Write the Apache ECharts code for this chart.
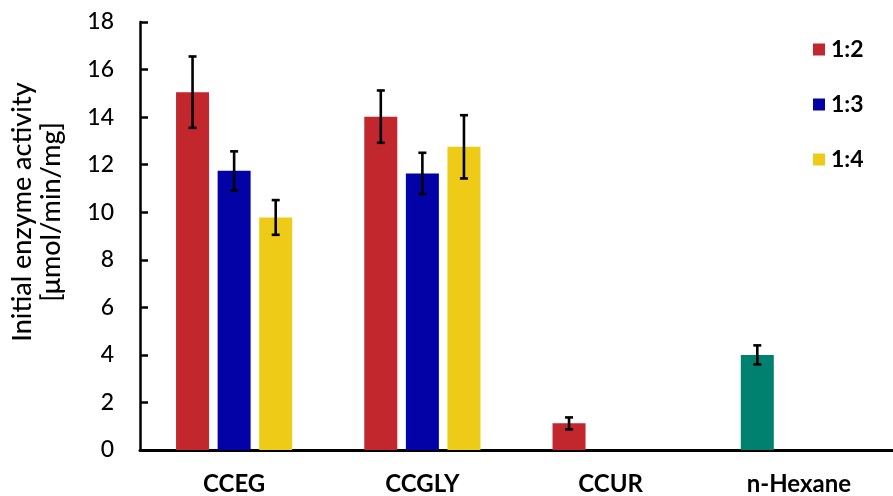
<!DOCTYPE html>
<html>
<head>
<meta charset="utf-8">
<script src="https://cdn.jsdelivr.net/npm/echarts@6/dist/echarts.min.js"></script>
<style>
  html, body { margin: 0; padding: 0; background: #fff; }
  #chart { width: 893px; height: 496px; }
</style>
</head>
<body>
<div id="chart"></div>
<script>
// Solvent systems on the category axis
const categories = ['CCEG', 'CCGLY', 'CCUR', 'n-Hexane'];
const seriesNames = ['1:2', '1:3', '1:4'];

// Initial enzyme activity (µmol/min/mg) per molar ratio
const ratio12 = [15.05, 14.02, 1.12, 4.0];
const ratio13 = [11.74, 11.63, null, null];
const ratio14 = [9.78, 12.75, null, null];

// Standard deviations for the error bars
const err12 = [1.5, 1.1, 0.25, 0.4];
const err13 = [0.82, 0.87, null, null];
const err14 = [0.73, 1.33, null, null];

// Y axis ticks
const yMin = 0, yMax = 18, yStep = 2;

const colors = ['#C1272D', '#0202A6', '#EDCB17'];
const hexaneColor = '#00806F';

const BAR_W = 33;
const BAR_GAP = 0.26; // fraction of bar width

const values = [ratio12, ratio13, ratio14];
const errors = [err12, err13, err14];

const chart = echarts.init(document.getElementById('chart'));

const barSeries = values.map((vals, si) => ({
  name: seriesNames[si],
  type: 'bar',
  barWidth: BAR_W,
  barGap: (BAR_GAP * 100) + '%',
  itemStyle: { color: colors[si] },
  data: vals.map((v, ci) => {
    if (si === 0 && categories[ci] === 'n-Hexane') {
      return { value: v, itemStyle: { color: hexaneColor } };
    }
    return v;
  }),
  z: 2
}));

// Error bars, offset the same way the bar series are laid out
const errSeries = values.map((vals, si) => ({
  name: 'err' + si,
  type: 'custom',
  z: 5,
  silent: true,
  data: vals.map((v, ci) => [ci, v, errors[si][ci]]).filter(d => d[1] != null),
  renderItem: function (params, api) {
    const ci = api.value(0), v = api.value(1), e = api.value(2);
    const step = BAR_W * (1 + BAR_GAP);
    const offset = (si - (values.length - 1) / 2) * step;
    const hi = api.coord([ci, v + e]);
    const lo = api.coord([ci, v - e]);
    const x = hi[0] + offset;
    const cap = 4;
    const style = { stroke: '#000', lineWidth: 2.6 };
    return {
      type: 'group',
      children: [
        { type: 'line', shape: { x1: x, y1: hi[1], x2: x, y2: lo[1] }, style },
        { type: 'line', shape: { x1: x - cap, y1: hi[1], x2: x + cap, y2: hi[1] }, style },
        { type: 'line', shape: { x1: x - cap, y1: lo[1], x2: x + cap, y2: lo[1] }, style }
      ]
    };
  }
}));

chart.setOption({
  animation: false,
  backgroundColor: '#fff',
  textStyle: { fontFamily: 'Lato' },
  grid: { left: 140, top: 22, bottom: 44, width: 756, containLabel: false },
  legend: {
    data: seriesNames,
    orient: 'vertical',
    left: 808,
    top: 33,
    itemWidth: 12,
    itemHeight: 12,
    itemGap: 32,
    icon: 'rect',
    textStyle: { fontFamily: 'Lato', fontSize: 23, fontWeight: 'bold', color: '#000', padding: [0, 0, 0, 1] }
  },
  xAxis: {
    type: 'category',
    data: categories,
    axisLine: { lineStyle: { color: '#000', width: 3 } },
    axisTick: { show: false },
    axisLabel: { fontFamily: 'Lato', fontSize: 24, fontWeight: 'bold', color: '#000', margin: 22 }
  },
  yAxis: {
    type: 'value',
    min: yMin,
    max: yMax,
    interval: yStep,
    splitLine: { show: false },
    axisLine: { show: true, lineStyle: { color: '#000', width: 2.5 } },
    axisTick: { show: true, inside: true, length: 8, lineStyle: { color: '#000', width: 2.5 } },
    axisLabel: { fontFamily: 'Lato', fontSize: 23, fontWeight: 500, color: '#000', margin: 26 }
  },
  graphic: [{
    type: 'text',
    x: 37,
    y: 212,
    rotation: Math.PI / 2,
    style: {
      text: 'Initial enzyme activity\n[μmol/min/mg]',
      font: '500 27px Lato',
      fill: '#000',
      align: 'center',
      verticalAlign: 'middle',
      lineHeight: 29
    }
  }],
  series: barSeries.concat(errSeries)
});
</script>
</body>
</html>
